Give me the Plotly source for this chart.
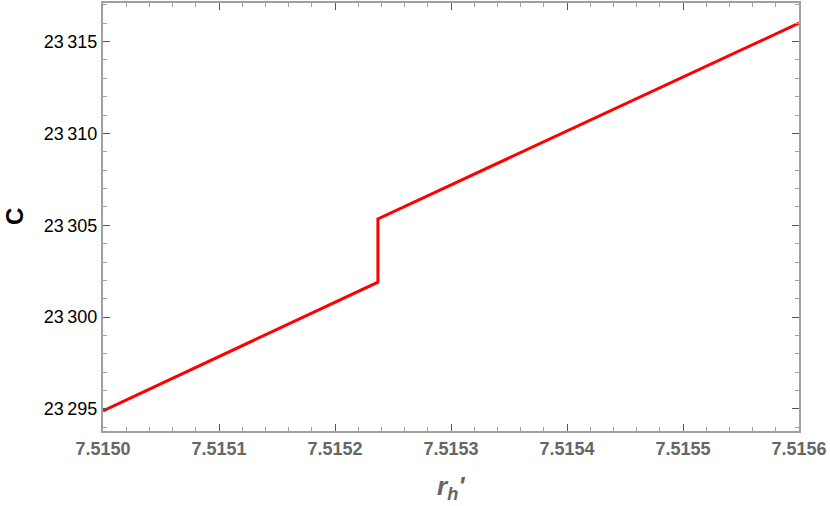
import plotly.graph_objects as go

# Data
x_vals = [7.5150, 7.515237, 7.515237, 7.5156]
c_vals = [23294.9, 23301.9, 23305.35, 23316.0]

x_ticks = [7.5150, 7.5151, 7.5152, 7.5153, 7.5154, 7.5155, 7.5156]
x_ticktext = ["7.5150", "7.5151", "7.5152", "7.5153", "7.5154", "7.5155", "7.5156"]
y_ticks = [23295, 23300, 23305, 23310, 23315]
y_ticktext = ["23\u2009295", "23\u2009300", "23\u2009305", "23\u2009310", "23\u2009315"]

FONT = "Liberation Sans, Arial, sans-serif"
FRAME = "#a0a0a0"
GREY_TXT = "#666666"

L, R, T, B = 103, 31, 3, 75
W, H = 830, 506
PW, PH = W - L - R, H - T - B

fig = go.Figure()
fig.add_trace(go.Scatter(x=x_vals, y=c_vals, mode="lines",
                         line=dict(color="#ff0000", width=3), showlegend=False))

fig.update_layout(
    width=W, height=H,
    margin=dict(l=L, r=R, t=T, b=B, autoexpand=False),
    plot_bgcolor="white", paper_bgcolor="white",
    font=dict(family=FONT),
    xaxis=dict(
        range=[7.5150, 7.5156], automargin=False,
        tickvals=x_ticks, ticktext=x_ticktext,
        tickfont=dict(family=FONT, size=18, color=GREY_TXT, weight="bold"),
        ticks="inside", ticklen=7, tickcolor="#555555", tickwidth=1,
        minor=dict(dtick=0.00002, ticks="inside", ticklen=4, tickcolor=FRAME, showgrid=False),
        showline=True, linecolor=FRAME, linewidth=2, mirror="allticks",
        showgrid=False, zeroline=False,
    ),
    yaxis=dict(
        range=[23293.8, 23317.1], automargin=False,
        tickvals=y_ticks, ticktext=y_ticktext,
        tickfont=dict(family=FONT, size=18, color="#000000"),
        ticks="inside", ticklen=7, tickcolor="#555555", tickwidth=1,
        minor=dict(dtick=1, ticks="inside", ticklen=4, tickcolor=FRAME, showgrid=False),
        showline=True, linecolor=FRAME, linewidth=2, mirror="allticks",
        showgrid=False, zeroline=False,
    ),
    annotations=[
        dict(text="<b><i>r<sub>h</sub>'</i></b>", xref="paper", yref="paper",
             x=0.5, y=-(488 - (H - B)) / PH, xanchor="center", yanchor="middle",
             showarrow=False, font=dict(family=FONT, size=26, color=GREY_TXT)),
        dict(text="<b>C</b>", xref="paper", yref="paper",
             x=(14 - L) / PW, y=0.5, xanchor="center", yanchor="middle",
             textangle=-90, showarrow=False,
             font=dict(family=FONT, size=24, color="#000000")),
    ],
)

fig.write_html("out.html", config={"displayModeBar": False},
               post_script="document.body.style.margin='0';document.body.style.overflow='hidden';")
